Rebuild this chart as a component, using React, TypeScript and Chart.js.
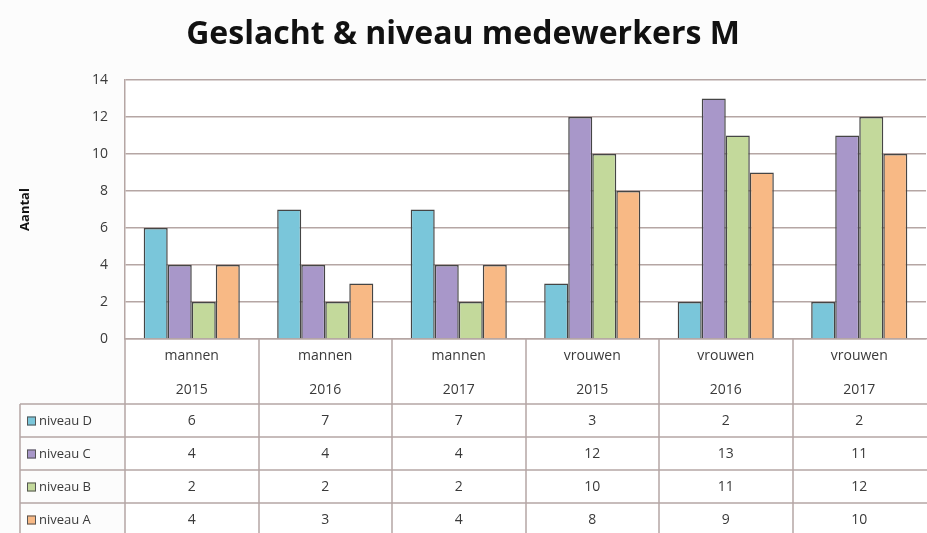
import React, { useEffect, useRef } from "react";
import { Chart, registerables } from "chart.js";

Chart.register(...registerables);

const TITLE = "Geslacht & niveau medewerkers M";
const Y_TITLE = "Aantal";
const CATEGORIES: string[][] = [
  ["mannen", "2015"],
  ["mannen", "2016"],
  ["mannen", "2017"],
  ["vrouwen", "2015"],
  ["vrouwen", "2016"],
  ["vrouwen", "2017"],
];
const SERIES_NAMES = ["niveau D", "niveau C", "niveau B", "niveau A"];
const NIVEAU_D = [6, 7, 7, 3, 2, 2];
const NIVEAU_C = [4, 4, 4, 12, 13, 11];
const NIVEAU_B = [2, 2, 2, 10, 11, 12];
const NIVEAU_A = [4, 3, 4, 8, 9, 10];
const SERIES_COLORS = ["#7ac6da", "#a897c9", "#c3d99b", "#f8b985"];

const LINE = "#b5a6a4";
const TEXT = "#3a3a3a";
const FONT = "'Open Sans', 'DejaVu Sans', sans-serif";
const HEADER_H = 65;
const ROW_H = 33;
const TABLE_LEFT = 20;

const tablePlugin = {
  id: "dataTable",
  afterDraw(chart: any) {
    const ctx = chart.ctx;
    const area = chart.chartArea;
    const x = chart.scales.x;
    const n = chart.data.labels.length;
    const catW = (area.right - area.left) / n;
    const tableTop = area.bottom + HEADER_H;
    const bottom = chart.height;
    ctx.save();
    ctx.strokeStyle = LINE;
    ctx.lineWidth = 1.5;
    // vertical category boundaries (the last one is outside the picture)
    for (let i = 0; i < n; i++) {
      const xx = Math.round(x.getPixelForValue(i) - catW / 2);
      ctx.beginPath();
      ctx.moveTo(xx, area.bottom);
      ctx.lineTo(xx, bottom);
      ctx.stroke();
    }
    // left border of legend column
    ctx.beginPath();
    ctx.moveTo(TABLE_LEFT, tableTop);
    ctx.lineTo(TABLE_LEFT, bottom);
    ctx.stroke();
    // horizontal lines
    for (let r = 0; r < chart.data.datasets.length; r++) {
      const yy = tableTop + r * ROW_H;
      ctx.beginPath();
      ctx.moveTo(TABLE_LEFT, yy);
      ctx.lineTo(chart.width, yy);
      ctx.stroke();
    }
    // rows
    ctx.font = `14px ${FONT}`;
    ctx.textBaseline = "middle";
    chart.data.datasets.forEach((ds: any, r: number) => {
      const cy = tableTop + r * ROW_H + ROW_H / 2 + 1;
      // legend key
      ctx.fillStyle = ds.backgroundColor;
      ctx.fillRect(TABLE_LEFT + 7, cy - 5, 9, 9);
      ctx.strokeStyle = "#555";
      ctx.lineWidth = 1;
      ctx.strokeRect(TABLE_LEFT + 7.5, cy - 4.5, 8, 8);
      ctx.fillStyle = TEXT;
      ctx.textAlign = "left";
      ctx.font = `13px ${FONT}`;
      ctx.fillText(ds.label, TABLE_LEFT + 19, cy);
      ctx.textAlign = "center";
      ctx.font = `14px ${FONT}`;
      ds.data.forEach((v: number, i: number) => {
        ctx.fillText(String(v), x.getPixelForValue(i), cy);
      });
    });
    ctx.restore();
  },
};

const bgPlugin = {
  id: "bg",
  beforeDraw(chart: any) {
    const ctx = chart.ctx;
    ctx.save();
    ctx.fillStyle = "#fcfcfc";
    ctx.fillRect(0, 0, chart.width, chart.height);
    const a = chart.chartArea;
    ctx.fillStyle = "#ffffff";
    ctx.fillRect(a.left, a.top, chart.width - a.left, chart.height - a.top);
    ctx.restore();
  },
};

export default function App() {
  const ref = useRef<HTMLCanvasElement | null>(null);
  useEffect(() => {
    if (!ref.current) return;
    const values = [NIVEAU_D, NIVEAU_C, NIVEAU_B, NIVEAU_A];
    const chart = new Chart(ref.current, {
      type: "bar",
      data: {
        labels: CATEGORIES as any,
        datasets: values.map((d, i) => ({
          label: SERIES_NAMES[i],
          data: d,
          backgroundColor: SERIES_COLORS[i],
          borderColor: "#454545",
          borderWidth: 1.5,
          categoryPercentage: 0.72,
          barPercentage: 1,
        })),
      },
      options: {
        responsive: false,
        animation: false,
        layout: { padding: { left: 0, right: 1, top: 0, bottom: 533 - 339 - HEADER_H } },
        plugins: {
          legend: { display: false },
          tooltip: { enabled: false },
          title: {
            display: true,
            text: TITLE,
            color: "#111",
            font: { family: FONT, size: 32, weight: "bold", lineHeight: 1.2 },
            padding: { top: 16, bottom: 25.6 },
          },
        },
        scales: {
          x: {
            grid: { display: false, drawTicks: false },
            border: { display: true, color: LINE, width: 1.5 },
            ticks: {
              color: TEXT,
              padding: 0,
              font: { family: FONT, size: 14, lineHeight: "34px" as any },
              maxRotation: 0,
              autoSkip: false,
            },
            afterFit(scale: any) {
              scale.height = HEADER_H;
            },
          },
          y: {
            min: 0,
            max: 14,
            ticks: {
              stepSize: 2,
              color: TEXT,
              padding: 17,
              font: { family: FONT, size: 14 },
            },
            grid: { color: LINE, lineWidth: 1.5, drawTicks: false },
            border: { display: true, color: LINE, width: 1.5 },
            title: {
              display: true,
              text: Y_TITLE,
              color: "#111",
              font: { family: FONT, size: 13, weight: "bold" },
              padding: { top: 17, bottom: 0 },
            },
            afterFit(scale: any) {
              scale.width = 125;
            },
          },
        },
      },
      plugins: [bgPlugin, tablePlugin],
    });
    return () => chart.destroy();
  }, []);
  return (
    <div style={{ position: "absolute", left: 0, top: 0, width: 927, height: 533 }}>
      <canvas ref={ref} width={927} height={533} style={{ display: "block" }} />
    </div>
  );
}
